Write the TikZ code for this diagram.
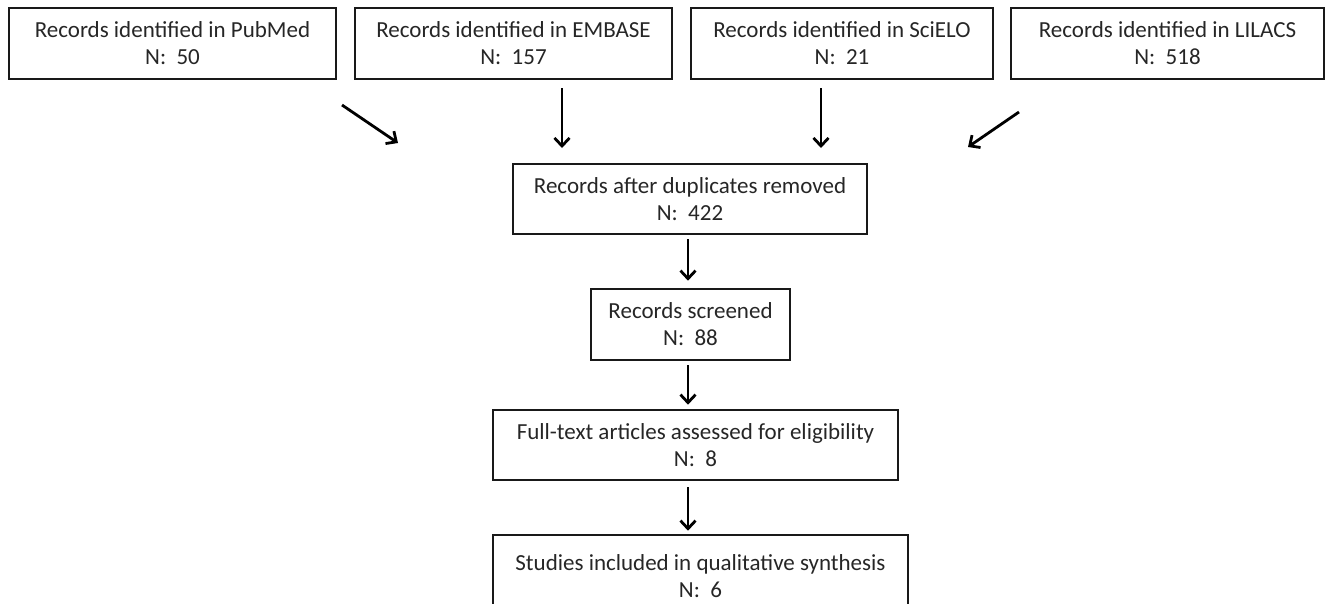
\documentclass[tikz,border=0pt]{standalone}
\usepackage{fontspec}
\setmainfont{Carlito}
\usetikzlibrary{arrows.meta}
\tikzset{
	recbox/.style={draw=black!90, line width=2.6pt, align=center, inner sep=0pt, font=\fontsize{23}{27}\selectfont, text=black!85},
	arr/.style={line width=2.8pt, -{Straight Barb[length=8pt,width=15pt,line width=2.8pt]}}
}

\begin{document}
\begin{tikzpicture}[x=1pt,y=-1pt]
		%%%%% START %%%%%
		\clip (0, 0) rectangle (1325, 603);
		\useasboundingbox (0, 0) rectangle (1325, 603);
		
		\node[recbox, minimum width=327pt, minimum height=71pt] (pubmed) at (172.5, 43.5) {Records identified in PubMed\\N:\ \ 50};
		\node[recbox, minimum width=317pt, minimum height=71pt] (embase) at (513.5, 43.5) {Records identified in EMBASE\\N:\ \ 157};
		\node[recbox, minimum width=302pt, minimum height=71pt] (scielo) at (842, 43.5) {Records identified in SciELO\\N:\ \ 21};
		\node[recbox, minimum width=313pt, minimum height=71pt] (lilacs) at (1167.5, 43.5) {Records identified in LILACS\\N:\ \ 518};
		
		\node[recbox, minimum width=354pt, minimum height=70pt] (dup) at (690, 199) {Records after duplicates removed\\N:\ \ 422};
		\node[recbox, minimum width=199pt, minimum height=71pt] (screened) at (690.5, 324.5) {Records screened\\N:\ \ 88};
		\node[recbox, minimum width=405pt, minimum height=70pt] (fulltext) at (695.5, 445) {Full-text articles assessed for eligibility\\N:\ \ 8};
		\node[recbox, minimum width=415pt, minimum height=82pt] (studies) at (700.5, 576) {Studies included in qualitative synthesis\\N:\ \ 6};
		
		% arrows towards the merged records
		\coordinate (pmout) at (342, 105);
		\coordinate (pmin) at (398, 143);
		\coordinate (emout) at (562, 88);
		\coordinate (emin) at (562, 148);
		\coordinate (scout) at (821, 88);
		\coordinate (scin) at (821, 148);
		\coordinate (liout) at (1019, 112);
		\coordinate (liin) at (968, 147);
		\draw[arr] (pmout) -- (pmin);
		\draw[arr] (emout) -- (emin);
		\draw[arr] (scout) -- (scin);
		\draw[arr] (liout) -- (liin);
		
		\draw[arr, shorten <=4pt, shorten >=7pt] (dup.south -| 688, 0) -- (screened.north -| 688, 0);
		\draw[arr, shorten <=4pt, shorten >=4pt] (screened.south -| 688, 0) -- (fulltext.north -| 688, 0);
		\draw[arr, shorten <=6pt, shorten >=3pt] (fulltext.south -| 688, 0) -- (studies.north -| 688, 0);
		%%%%% END %%%%%
	\end{tikzpicture}
\end{document}
